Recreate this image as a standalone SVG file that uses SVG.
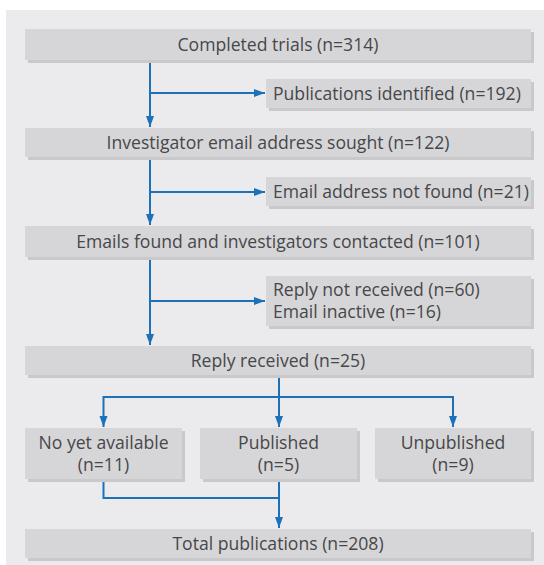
<svg xmlns="http://www.w3.org/2000/svg" width="544" height="565" viewBox="0 0 544 565">
<style>
.sh{fill:#c9c9cb}
.bx{fill:#d6d6d8}
.t{font-family:"Open Sans","Noto Sans","Liberation Sans",sans-serif;font-size:17.6px;fill:#47474a}
.c{text-anchor:middle}
.ln{fill:none;stroke:#1d71b8;stroke-width:2}
</style>
<defs>
<marker id="ah" markerWidth="12" markerHeight="10" refX="11" refY="5" orient="auto" markerUnits="userSpaceOnUse">
<path d="M0,1 L11,5 L0,9 Z" fill="#1d71b8"/>
</marker>
</defs>
<rect x="6" y="10" width="538" height="555" fill="#ebebed"/>
<g id="connectors">
<path class="ln" d="M150,60 V127" marker-end="url(#ah)"/>
<path class="ln" d="M150,93 H265" marker-end="url(#ah)"/>
<path class="ln" d="M150,157 V225" marker-end="url(#ah)"/>
<path class="ln" d="M150,192 H265" marker-end="url(#ah)"/>
<path class="ln" d="M150,257 V345" marker-end="url(#ah)"/>
<path class="ln" d="M150,301 H265" marker-end="url(#ah)"/>
<path class="ln" d="M279,375 V427" marker-end="url(#ah)"/>
<path class="ln" d="M279,397 H103.5 V427" marker-end="url(#ah)"/>
<path class="ln" d="M279,397 H453 V427" marker-end="url(#ah)"/>
<path class="ln" d="M103.5,479 V498 H279"/>
<path class="ln" d="M279,479 V528" marker-end="url(#ah)"/>
</g>
<g id="n1"><rect class="sh" x="28" y="32" width="506" height="31"/><rect class="bx" x="25" y="29" width="506" height="31"/><text class="t c" x="278" y="51">Completed trials (n=314)</text></g>
<g id="n2"><rect class="sh" x="269" y="82" width="265" height="29"/><rect class="bx" x="266" y="79" width="265" height="29"/><text class="t" x="273" y="100">Publications identified (n=192)</text></g>
<g id="n3"><rect class="sh" x="28" y="131" width="506" height="29"/><rect class="bx" x="25" y="128" width="506" height="29"/><text class="t c" x="278" y="149">Investigator email address sought (n=122)</text></g>
<g id="n4"><rect class="sh" x="269" y="180" width="265" height="29"/><rect class="bx" x="266" y="177" width="265" height="29"/><text class="t" x="273" y="198">Email address not found (n=21)</text></g>
<g id="n5"><rect class="sh" x="28" y="229" width="506" height="31"/><rect class="bx" x="25" y="226" width="506" height="31"/><text class="t c" x="278" y="248">Emails found and investigators contacted (n=101)</text></g>
<g id="n6"><rect class="sh" x="269" y="279" width="265" height="50"/><rect class="bx" x="266" y="276" width="265" height="50"/><text class="t" x="273" y="296">Reply not received (n=60)</text><text class="t" x="273" y="318">Email inactive (n=16)</text></g>
<g id="n7"><rect class="sh" x="28" y="349" width="506" height="29"/><rect class="bx" x="25" y="346" width="506" height="29"/><text class="t c" x="278" y="367">Reply received (n=25)</text></g>
<g id="n8"><rect class="sh" x="28" y="431" width="157" height="51"/><rect class="bx" x="25" y="428" width="157" height="51"/><text class="t c" x="103.5" y="449">No yet available</text><text class="t c" x="103.5" y="471">(n=11)</text></g>
<g id="n9"><rect class="sh" x="203" y="431" width="157" height="51"/><rect class="bx" x="200" y="428" width="157" height="51"/><text class="t c" x="278.5" y="449">Published</text><text class="t c" x="278.5" y="471">(n=5)</text></g>
<g id="n10"><rect class="sh" x="378" y="431" width="156" height="51"/><rect class="bx" x="375" y="428" width="156" height="51"/><text class="t c" x="453" y="449">Unpublished</text><text class="t c" x="453" y="471">(n=9)</text></g>
<g id="n11"><rect class="sh" x="28" y="532" width="506" height="29"/><rect class="bx" x="25" y="529" width="506" height="29"/><text class="t c" x="278" y="550">Total publications (n=208)</text></g>
</svg>
